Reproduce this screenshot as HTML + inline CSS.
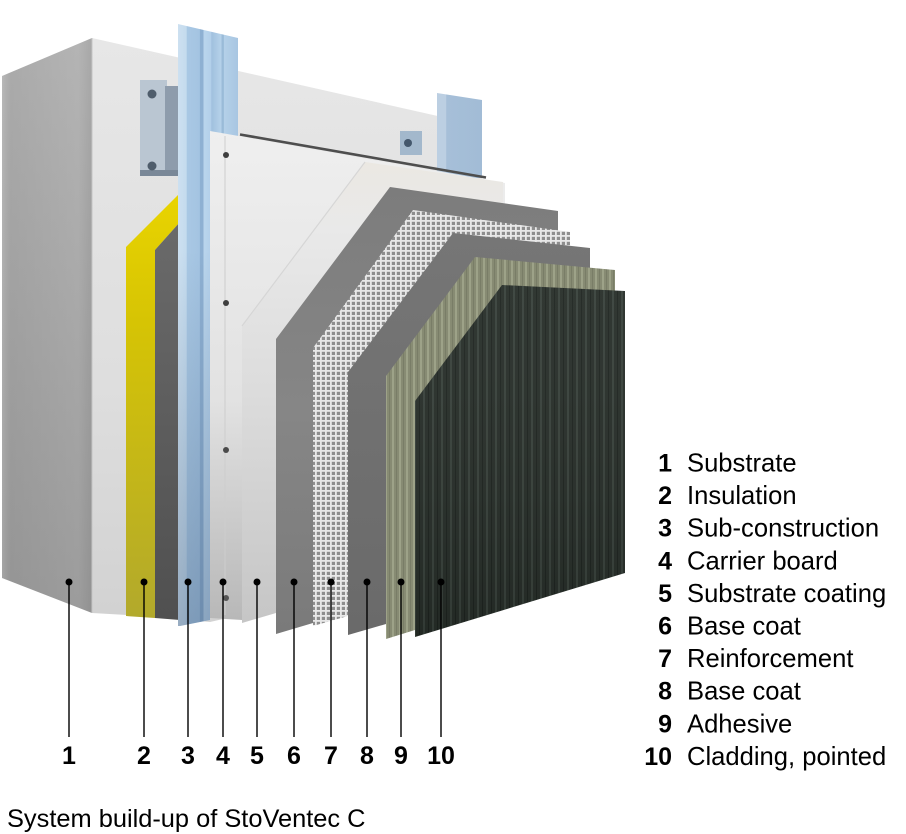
<!DOCTYPE html>
<html>
<head>
<meta charset="utf-8">
<style>
  html,body{margin:0;padding:0;background:#fff;}
  svg{display:block;}
  text{font-family:"Liberation Sans", Arial, sans-serif;fill:#000;}
</style>
</head>
<body>
<svg width="906" height="834" viewBox="0 0 906 834" xmlns="http://www.w3.org/2000/svg">
  <defs>
    <linearGradient id="gWallLeft" x1="0" y1="40" x2="0" y2="610" gradientUnits="userSpaceOnUse">
      <stop offset="0" stop-color="#b4b4b4"/>
      <stop offset="1" stop-color="#9c9c9c"/>
    </linearGradient>
    <linearGradient id="gWallLeftH" x1="2" y1="0" x2="92" y2="0" gradientUnits="userSpaceOnUse">
      <stop offset="0" stop-color="#ffffff" stop-opacity="0.08"/>
      <stop offset="0.1" stop-color="#000000" stop-opacity="0.05"/>
      <stop offset="0.85" stop-color="#000000" stop-opacity="0"/>
      <stop offset="1" stop-color="#000000" stop-opacity="0.07"/>
    </linearGradient>
    <linearGradient id="gWallFront" x1="0" y1="40" x2="0" y2="615" gradientUnits="userSpaceOnUse">
      <stop offset="0" stop-color="#e7e7e7"/>
      <stop offset="0.6" stop-color="#dedede"/>
      <stop offset="1" stop-color="#d2d2d2"/>
    </linearGradient>
    <linearGradient id="gYellow" x1="0" y1="195" x2="0" y2="618" gradientUnits="userSpaceOnUse">
      <stop offset="0" stop-color="#e9d400"/>
      <stop offset="0.3" stop-color="#d6c404"/>
      <stop offset="1" stop-color="#b2a92c"/>
    </linearGradient>
    <linearGradient id="gInsDark" x1="0" y1="220" x2="0" y2="620" gradientUnits="userSpaceOnUse">
      <stop offset="0" stop-color="#6a6a6a"/>
      <stop offset="1" stop-color="#505050"/>
    </linearGradient>
    <linearGradient id="gRail" x1="178" y1="0" x2="238" y2="0" gradientUnits="userSpaceOnUse">
      <stop offset="0" stop-color="#cde0f0"/>
      <stop offset="0.14" stop-color="#c4dbee"/>
      <stop offset="0.15" stop-color="#a9c8e4"/>
      <stop offset="0.36" stop-color="#a4c4e2"/>
      <stop offset="0.37" stop-color="#8eb0d2"/>
      <stop offset="0.42" stop-color="#8eb0d2"/>
      <stop offset="0.43" stop-color="#bad5ec"/>
      <stop offset="0.55" stop-color="#b2cfea"/>
      <stop offset="0.56" stop-color="#a0c0de"/>
      <stop offset="0.72" stop-color="#b6d2ea"/>
      <stop offset="0.73" stop-color="#9abbd8"/>
      <stop offset="0.76" stop-color="#9abbd8"/>
      <stop offset="0.77" stop-color="#b4d0e8"/>
      <stop offset="1" stop-color="#a8c6e2"/>
    </linearGradient>
    <linearGradient id="gRailShade" x1="0" y1="250" x2="0" y2="626" gradientUnits="userSpaceOnUse">
      <stop offset="0" stop-color="#284060" stop-opacity="0"/>
      <stop offset="1" stop-color="#284060" stop-opacity="0.32"/>
    </linearGradient>
    <linearGradient id="gRail2" x1="437" y1="0" x2="482" y2="0" gradientUnits="userSpaceOnUse">
      <stop offset="0" stop-color="#bccfe2"/>
      <stop offset="0.2" stop-color="#bccfe2"/>
      <stop offset="0.21" stop-color="#a6bfd8"/>
      <stop offset="1" stop-color="#a2bcd6"/>
    </linearGradient>
    <linearGradient id="gBoard" x1="0" y1="130" x2="0" y2="620" gradientUnits="userSpaceOnUse">
      <stop offset="0" stop-color="#efefef"/>
      <stop offset="0.55" stop-color="#e2e2e2"/>
      <stop offset="1" stop-color="#b8b8b8"/>
    </linearGradient>
    <linearGradient id="gL5" x1="0" y1="160" x2="0" y2="622" gradientUnits="userSpaceOnUse">
      <stop offset="0" stop-color="#ebe8e2"/>
      <stop offset="0.15" stop-color="#e9e9e9"/>
      <stop offset="0.5" stop-color="#dcdcdc"/>
      <stop offset="1" stop-color="#c6c6c6"/>
    </linearGradient>
    <linearGradient id="gL6" x1="0" y1="185" x2="0" y2="635" gradientUnits="userSpaceOnUse">
      <stop offset="0" stop-color="#7c7c7c"/>
      <stop offset="0.5" stop-color="#868686"/>
      <stop offset="1" stop-color="#7a7a7a"/>
    </linearGradient>
    <linearGradient id="gL8" x1="0" y1="230" x2="0" y2="635" gradientUnits="userSpaceOnUse">
      <stop offset="0" stop-color="#767676"/>
      <stop offset="1" stop-color="#6a6a6a"/>
    </linearGradient>
    <pattern id="pMesh" x="0" y="0" width="5" height="5" patternUnits="userSpaceOnUse">
      <rect width="5" height="5" fill="#8e8e8e"/>
      <rect width="5" height="1.8" fill="#e8e8e8"/>
      <rect width="1.8" height="5" fill="#e8e8e8"/>
    </pattern>
    <pattern id="pOlive" x="0" y="0" width="7" height="10" patternUnits="userSpaceOnUse">
      <rect width="7" height="10" fill="#878b73"/>
      <rect x="0" width="2" height="10" fill="#9da288"/>
      <rect x="4" width="1" height="10" fill="#797d67"/>
    </pattern>
    <pattern id="pClad" x="0" y="0" width="9" height="10" patternUnits="userSpaceOnUse">
      <rect width="9" height="10" fill="#262d28"/>
      <rect x="0" width="2" height="10" fill="#37403a"/>
      <rect x="5" width="1" height="10" fill="#1c221e"/>
    </pattern>
    <linearGradient id="gCladShade" x1="0" y1="285" x2="0" y2="640" gradientUnits="userSpaceOnUse">
      <stop offset="0" stop-color="#ffffff" stop-opacity="0.05"/>
      <stop offset="1" stop-color="#000000" stop-opacity="0.1"/>
    </linearGradient>
  </defs>

  <rect width="906" height="834" fill="#ffffff"/>

  <!-- 1 Substrate wall -->
  <polygon points="92,38 482,126 482,560 210,622 127,615 92,613" fill="url(#gWallFront)"/>
  <polygon points="2,76 92,38 92,613 2,578" fill="url(#gWallLeft)"/>
  <polygon points="2,76 92,38 92,613 2,578" fill="url(#gWallLeftH)"/>
  <line x1="92" y1="38" x2="92" y2="613" stroke="#c4c4c4" stroke-width="1"/>

  <!-- bracket 1 -->
  <rect x="140" y="80" width="27" height="95" fill="#bac6d2"/>
  <rect x="165" y="86" width="14" height="88" fill="#8e9cac"/>
  <rect x="140" y="170" width="40" height="6" fill="#7a8898"/>
  <circle cx="152" cy="94" r="4.5" fill="#4f5d6c"/>
  <circle cx="152" cy="166" r="4.5" fill="#4f5d6c"/>

  <!-- second rail + bracket (right) -->
  <rect x="400" y="131" width="22" height="24" fill="#a3b8cc"/>
  <circle cx="408" cy="143" r="4" fill="#44576c"/>
  <polygon points="437,93 482,100 482,178 437,178" fill="url(#gRail2)"/>

  <!-- 2 Insulation -->
  <polygon points="126,247 180,193 180,222 155,250 155,618 126,616" fill="url(#gYellow)"/>
  <polygon points="155,250 180,222 180,620 155,618" fill="url(#gInsDark)"/>

  <!-- 3 Sub-construction rail -->
  <polygon points="178,24 238,38 238,180 210,180 210,620 180,626 178,626" fill="url(#gRail)"/>
  <polygon points="178,24 238,38 238,180 210,180 210,620 180,626 178,626" fill="url(#gRailShade)"/>

  <!-- 4 Carrier board -->
  <polygon points="210,131 505,183 505,400 242,620 210,618" fill="url(#gBoard)"/>
  <line x1="240" y1="134.5" x2="486" y2="177.5" stroke="#4e4e4e" stroke-width="2.6"/>
  <line x1="225" y1="136" x2="225" y2="615" stroke="#cdcdcd" stroke-width="1"/>
  <circle cx="226" cy="155" r="3" fill="#3e3e3e"/>
  <circle cx="226" cy="303" r="3" fill="#3e3e3e"/>
  <circle cx="226" cy="450" r="3" fill="#4a4a4a"/>
  <circle cx="226" cy="598" r="3" fill="#555"/>

  <!-- 5 Substrate coating -->
  <polygon points="365,162 503,182 503,420 276,613 242,623 242,326" fill="url(#gL5)"/>
  <line x1="365" y1="162" x2="242" y2="326" stroke="#d6d6d6" stroke-width="1.2"/>

  <!-- 6 Base coat -->
  <polygon points="390,187 558,211 558,430 313,623 276,634 276,339" fill="url(#gL6)"/>

  <!-- 7 Reinforcement mesh -->
  <polygon points="413,210 570,232 570,440 348,616 313,626 313,348" fill="url(#pMesh)"/>

  <!-- 8 Base coat -->
  <polygon points="453,233 590,248 590,450 386,624 348,635 348,372" fill="url(#gL8)"/>

  <!-- 9 Adhesive -->
  <polygon points="475,257 615,270 615,470 415,630 386,639 386,376" fill="url(#pOlive)"/>

  <!-- 10 Cladding -->
  <polygon points="502,285 625,291 625,573 415,637 415,401" fill="url(#pClad)"/>
  <polygon points="502,285 625,291 625,573 415,637 415,401" fill="url(#gCladShade)"/>

  <!-- leader lines -->
  <g stroke="#000" stroke-width="1.4">
    <line x1="69" y1="582" x2="69" y2="737"/>
    <line x1="144" y1="582" x2="144" y2="737"/>
    <line x1="188" y1="582" x2="188" y2="737"/>
    <line x1="223" y1="582" x2="223" y2="737"/>
    <line x1="257" y1="582" x2="257" y2="737"/>
    <line x1="294" y1="582" x2="294" y2="737"/>
    <line x1="331" y1="582" x2="331" y2="737"/>
    <line x1="367" y1="582" x2="367" y2="737"/>
    <line x1="401" y1="582" x2="401" y2="737"/>
    <line x1="441" y1="582" x2="441" y2="737"/>
  </g>
  <g fill="#000">
    <circle cx="69" cy="582" r="3.5"/>
    <circle cx="144" cy="582" r="3.5"/>
    <circle cx="188" cy="582" r="3.5"/>
    <circle cx="223" cy="582" r="3.5"/>
    <circle cx="257" cy="582" r="3.5"/>
    <circle cx="294" cy="582" r="3.5"/>
    <circle cx="331" cy="582" r="3.5"/>
    <circle cx="367" cy="582" r="3.5"/>
    <circle cx="401" cy="582" r="3.5"/>
    <circle cx="441" cy="582" r="3.5"/>
  </g>

  <!-- bottom numbers -->
  <g font-size="25" font-weight="bold" text-anchor="middle">
    <text x="69" y="764">1</text>
    <text x="144" y="764">2</text>
    <text x="188" y="764">3</text>
    <text x="223" y="764">4</text>
    <text x="257" y="764">5</text>
    <text x="294" y="764">6</text>
    <text x="331" y="764">7</text>
    <text x="367" y="764">8</text>
    <text x="401" y="764">9</text>
    <text x="441" y="764">10</text>
  </g>

  <!-- legend -->
  <g font-size="25" font-weight="bold" text-anchor="end">
    <text x="672" y="471.5">1</text>
    <text x="672" y="504.1">2</text>
    <text x="672" y="536.7">3</text>
    <text x="672" y="569.3">4</text>
    <text x="672" y="601.9">5</text>
    <text x="672" y="634.5">6</text>
    <text x="672" y="667.1">7</text>
    <text x="672" y="699.7">8</text>
    <text x="672" y="732.3">9</text>
    <text x="672" y="764.9">10</text>
  </g>
  <g font-size="25.6" fill="#111">
    <text x="687" y="471.5">Substrate</text>
    <text x="687" y="504.1">Insulation</text>
    <text x="687" y="536.7">Sub-construction</text>
    <text x="687" y="569.3">Carrier board</text>
    <text x="687" y="601.9">Substrate coating</text>
    <text x="687" y="634.5">Base coat</text>
    <text x="687" y="667.1">Reinforcement</text>
    <text x="687" y="699.7">Base coat</text>
    <text x="687" y="732.3">Adhesive</text>
    <text x="687" y="764.9">Cladding, pointed</text>
  </g>

  <!-- caption -->
  <text x="7" y="827" font-size="25.4" fill="#111">System build-up of StoVentec C</text>
</svg>
</body>
</html>
